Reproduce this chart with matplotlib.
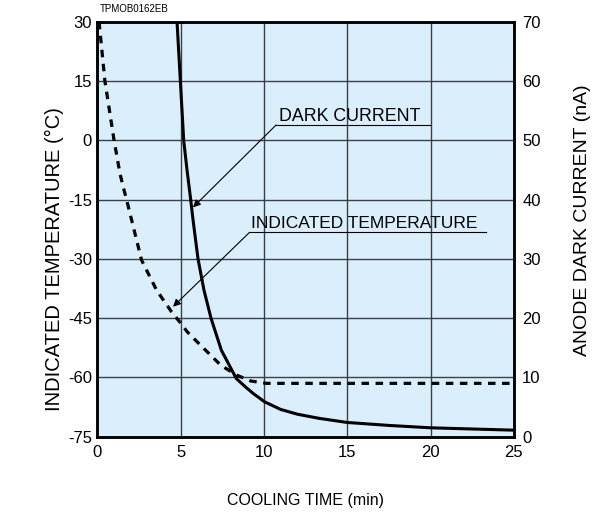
import matplotlib
matplotlib.use("Agg")
import matplotlib.pyplot as plt

# ---- data ----
temp_time = [0.1, 0.45, 1.0, 1.35, 1.55, 1.75, 2.65, 3.55, 4.45, 4.95, 5.4, 5.8, 6.3, 6.9, 7.4, 8.35, 9.2, 10.15, 25.0]
temp_vals = [30.0, 15.0, 0.0, -8.3, -11.8, -15.0, -30.3, -37.9, -43.4, -46.0, -48.5, -50.2, -52.3, -54.8, -56.9, -59.4, -60.9, -61.5, -61.5]

dc_time = [4.78, 4.98, 5.18, 5.38, 5.6, 5.74, 6.04, 6.4, 6.82, 7.44, 8.34, 8.93, 9.35, 10.03, 11.0, 12.0, 13.3, 15.0, 17.5, 20.0, 25.0]
dc_vals = [70.0, 60.0, 50.0, 45.0, 40.0, 36.6, 30.0, 24.7, 20.0, 14.6, 9.8, 8.3, 7.3, 5.9, 4.6, 3.8, 3.1, 2.4, 1.9, 1.5, 1.1]

x_ticks = [0, 5, 10, 15, 20, 25]
left_ticks = [30, 15, 0, -15, -30, -45, -60, -75]
right_ticks = [0, 10, 20, 30, 40, 50, 60, 70]

plt.rcParams['font.family'] = ['Liberation Sans', 'DejaVu Sans']
plt.rcParams['axes.unicode_minus'] = False

fig = plt.figure(figsize=(5.94, 5.16), dpi=100)
ax = fig.add_axes([0.164, 0.1537, 0.701, 0.804])
ax.set_facecolor('#dbeefc')
ax2 = ax.twinx()

ax.set_xlim(0, 25)
ax.set_ylim(-75, 30)
ax2.set_ylim(0, 70)

ax.set_xticks(x_ticks)
ax.set_yticks(left_ticks)
ax2.set_yticks(right_ticks)
ax.tick_params(axis='x', length=0, labelsize=12, pad=6, colors='black')
ax.tick_params(axis='y', length=0, labelsize=12, pad=4, colors='black')
ax2.tick_params(axis='y', length=0, labelsize=12, pad=6)
ax.grid(True, color='#3a4048', linewidth=1.0)
ax.set_axisbelow(True)

for sp in ax.spines.values():
    sp.set_linewidth(1.8)
for sp in ax2.spines.values():
    sp.set_linewidth(1.8)

ax.plot(temp_time, temp_vals, color='black', linewidth=2.3, linestyle=(0, (2.35, 2.05)))
ax2.plot(dc_time, dc_vals, color='black', linewidth=2.2)

ax.set_xlabel('COOLING TIME (min)', fontsize=11.5, labelpad=24)
ax.set_ylabel('INDICATED TEMPERATURE (°C)', fontsize=14.5)
ax2.set_ylabel('ANODE DARK CURRENT (nA)', fontsize=14)
ax.yaxis.set_label_coords(-0.104, 0.428)
ax.yaxis.label.set_verticalalignment('center')
ax2.yaxis.set_label_coords(1.166, 0.522)
ax2.yaxis.label.set_verticalalignment('center')

# annotations
arrow_kw = dict(arrowstyle='-|>', color='black', lw=0.8, mutation_scale=11, shrinkA=0, shrinkB=0)
ax.annotate('', xy=(4.54, -42.1), xytext=(9.13, -23.3), arrowprops=arrow_kw)
ax.plot([9.13, 23.35], [-23.3, -23.3], color='black', linewidth=0.8)
ax.text(9.25, -22.3, 'INDICATED TEMPERATURE', fontsize=12.5, va='baseline', ha='left')

ax2.annotate('', xy=(5.74, 38.7), xytext=(10.73, 52.6), arrowprops=arrow_kw)
ax2.plot([10.73, 20.03], [52.6, 52.6], color='black', linewidth=0.8)
ax2.text(10.93, 53.3, 'DARK CURRENT', fontsize=12.8, va='baseline', ha='left')

fig.text(0.1683, 0.972, 'TPMOB0162EB', fontsize=7, ha='left', va='bottom')

fig.savefig('out.png', dpi=100)
